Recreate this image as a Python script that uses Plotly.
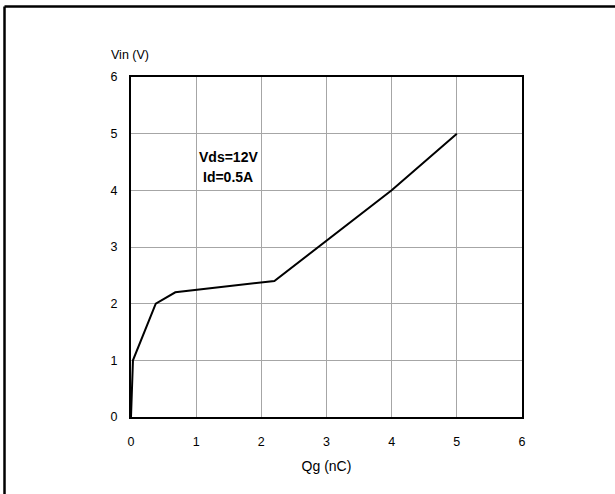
import plotly.graph_objects as go

# Data (gate charge curve)
qg_nc = [0.0, 0.03, 0.38, 0.68, 2.2, 4.0, 5.0]
vin_v = [0.0, 1.0, 2.0, 2.2, 2.4, 4.0, 5.0]

x_ticks = [0, 1, 2, 3, 4, 5, 6]
y_ticks = [0, 1, 2, 3, 4, 5, 6]

cond_lines = ["Vds=12V", "Id=0.5A"]
cond_x = 1.49
cond_y = [4.59, 4.23]

FONT = "Arial, Liberation Sans, sans-serif"

fig = go.Figure()
fig.add_trace(go.Scatter(
    x=qg_nc, y=vin_v, mode="lines",
    line=dict(color="black", width=2),
    showlegend=False, hoverinfo="skip",
))

for txt, yy in zip(cond_lines, cond_y):
    fig.add_annotation(x=cond_x, y=yy, xref="x", yref="y", text=f"<b>{txt}</b>",
                       showarrow=False, font=dict(family=FONT, size=14, color="black"))

fig.add_annotation(x=-0.055, y=1.065, xref="paper", yref="paper", text="Vin (V)",
                   showarrow=False, xanchor="left", yanchor="middle",
                   font=dict(family=FONT, size=12.5, color="black"))

# outer frame (left and top edges visible in reference)
fig.add_shape(type="line", xref="paper", yref="paper", x0=-0.3235, x1=-0.3235,
              y0=1.2074, y1=-0.3, line=dict(color="black", width=2.5))
fig.add_shape(type="line", xref="paper", yref="paper", x0=-0.3235, x1=1.3,
              y0=1.2074, y1=1.2074, line=dict(color="black", width=2.5))

fig.update_xaxes(
    range=[0, 6], tickvals=x_ticks, ticktext=[str(v) for v in x_ticks],
    showgrid=True, gridcolor="#a6a6a6", gridwidth=1,
    showline=True, linecolor="black", linewidth=2, mirror=True,
    zeroline=False, ticks="", ticklabelstandoff=12,
    tickfont=dict(family=FONT, size=12.5, color="black"),
    title=dict(text="Qg (nC)", font=dict(family=FONT, size=14, color="black"), standoff=13),
)
fig.update_yaxes(
    range=[0, 6], tickvals=y_ticks, ticktext=[str(v) for v in y_ticks],
    showgrid=True, gridcolor="#a6a6a6", gridwidth=1,
    showline=True, linecolor="black", linewidth=2, mirror=True,
    zeroline=False, ticks="", ticklabelstandoff=9,
    tickfont=dict(family=FONT, size=12.5, color="black"),
)

fig.update_layout(
    width=615, height=494,
    margin=dict(l=131, r=93, t=77, b=77, autoexpand=False),
    paper_bgcolor="white", plot_bgcolor="white",
    showlegend=False,
)

fig.write_html("out.html", config={"displayModeBar": False})

# remove the browser's default page margin so the figure sits at (0, 0)
with open("out.html", "r", encoding="utf-8") as f:
    html = f.read()
html = html.replace("<body>", '<body style="margin:0;padding:0;overflow:hidden;">', 1)
with open("out.html", "w", encoding="utf-8") as f:
    f.write(html)
